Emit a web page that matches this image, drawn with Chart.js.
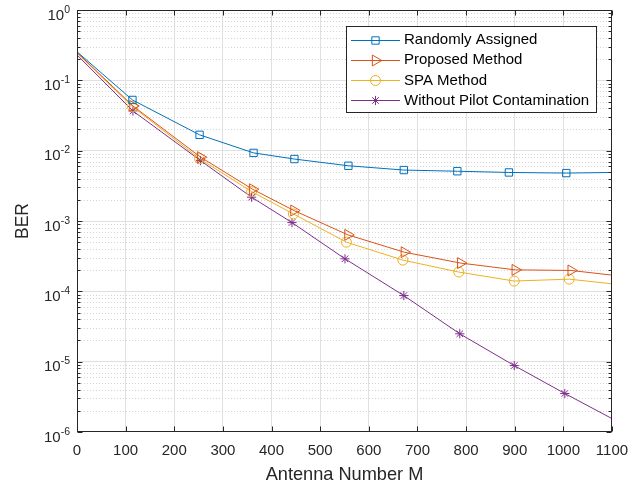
<!DOCTYPE html>
<html><head><meta charset="utf-8">
<script src="https://cdn.jsdelivr.net/npm/chart.js@4/dist/chart.umd.min.js"></script>
<style>html,body{margin:0;padding:0;background:#fff;}canvas{display:block;}</style>
</head><body>
<canvas id="c" width="640" height="486"></canvas>
<script>
// ---- data ----
const seriesLabels = ['Randomly Assigned', 'Proposed Method', 'SPA Method', 'Without Pilot Contamination'];
const xRandom   = [0, 114, 252, 363, 447, 558, 672, 782, 888, 1006, 1100];
const berRandom = [0.255, 0.0526, 0.0168, 0.0093, 0.0076, 0.0061, 0.0053, 0.0051, 0.0049, 0.0048, 0.0049];
const xProposed   = [0, 115, 254, 361, 446, 557, 673, 789, 901, 1016, 1100];
const berProposed = [0.25, 0.0432, 0.0081, 0.00283, 0.00141, 0.000635, 0.00036, 0.000252, 0.000202, 0.000198, 0.00017];
const xSPA   = [0, 114, 252, 359, 445, 554, 670, 785, 899, 1012, 1100];
const berSPA = [0.245, 0.0423, 0.0077, 0.00262, 0.00126, 0.0005, 0.000278, 0.000188, 0.00014, 0.000149, 0.000128];
const xNoPC   = [0, 115, 254, 359, 442, 551, 672, 787, 899, 1003, 1100];
const berNoPC = [0.23, 0.0367, 0.00722, 0.00218, 0.00095, 0.00029, 0.000087, 0.0000249, 0.0000088, 0.00000353, 0.00000155];
const xTickValues = [0, 100, 200, 300, 400, 500, 600, 700, 800, 900, 1000, 1100];
const yDecades = [-6, -5, -4, -3, -2, -1, 0];
const yMinorMantissas = [2, 3, 4, 5, 6, 7, 8, 9];

// ---- styles ----
const colors = ['#0072BD', '#D95319', '#EDB120', '#7E2F8E'];
const styles = [
  {pointStyle: 'rect', radius: 5.2, rotation: 0},
  {pointStyle: 'triangle', radius: 6.3, rotation: 90},
  {pointStyle: 'circle', radius: 5, rotation: 0},
  {pointStyle: 'star', radius: 4.6, rotation: 0}
];
const FONT = '"Liberation Sans", Arial, Helvetica, sans-serif';
const AXIS_COLOR = '#262626';

const isMajor = v => Math.abs(Math.log10(v) - Math.round(Math.log10(v))) < 1e-9;

const yMajorValues = yDecades.map(e => Math.pow(10, e));
const yMinorValues = [];
yDecades.slice(0, -1).forEach(e => yMinorMantissas.forEach(m => yMinorValues.push(m * Math.pow(10, e))));
const yAllValues = [...yMajorValues, ...yMinorValues].sort((a, b) => a - b);

const xs = [xRandom, xProposed, xSPA, xNoPC];
const ys = [berRandom, berProposed, berSPA, berNoPC];

const datasets = seriesLabels.map((label, k) => ({
  label,
  data: xs[k].map((x, i) => ({x, y: ys[k][i]})),
  borderColor: colors[k],
  backgroundColor: 'rgba(0,0,0,0)',
  borderWidth: 1,
  pointStyle: styles[k].pointStyle,
  pointRotation: styles[k].rotation,
  pointRadius: xs[k].map((_, i) => (i === 0 || i === xs[k].length - 1) ? 0 : styles[k].radius),
  pointBorderWidth: 1,
  pointBorderColor: colors[k],
  pointBackgroundColor: 'rgba(0,0,0,0)',
  tension: 0
}));

const matlabAxes = {
  id: 'matlabAxes',
  beforeDatasetsDraw(chart) {
    const {ctx, chartArea: a, scales: {y}} = chart;
    ctx.save();
    ctx.strokeStyle = '#d4d4d4';
    ctx.lineWidth = 1;
    ctx.setLineDash([1, 2]);
    yMinorValues.forEach(v => {
      const py = Math.round(y.getPixelForValue(v)) + 0.5;
      ctx.beginPath(); ctx.moveTo(a.left + 1, py); ctx.lineTo(a.right - 1, py); ctx.stroke();
    });
    ctx.restore();
  },
  afterDatasetsDraw(chart) {
    const {ctx, chartArea: a, scales: {x, y}} = chart;
    ctx.save();
    ctx.strokeStyle = AXIS_COLOR;
    ctx.lineWidth = 1;
    const L = Math.round(a.left) + 0.5, R = Math.round(a.right) - 0.5;
    const T = Math.round(a.top) + 0.5, B = Math.round(a.bottom) - 0.5;
    ctx.beginPath();
    xTickValues.forEach(v => {
      const px = Math.round(x.getPixelForValue(v)) + 0.5;
      ctx.moveTo(px, B); ctx.lineTo(px, B - 5);
      ctx.moveTo(px, T); ctx.lineTo(px, T + 5);
    });
    yMajorValues.forEach(v => {
      const py = Math.round(y.getPixelForValue(v)) + 0.5;
      ctx.moveTo(L, py); ctx.lineTo(L + 5, py);
      ctx.moveTo(R, py); ctx.lineTo(R - 5, py);
    });
    yMinorValues.forEach(v => {
      const py = Math.round(y.getPixelForValue(v)) + 0.5;
      ctx.moveTo(L, py); ctx.lineTo(L + 3, py);
      ctx.moveTo(R, py); ctx.lineTo(R - 3, py);
    });
    ctx.stroke();
    ctx.strokeRect(L, T, R - L, B - T);

    // y tick labels: 10 with superscript exponent, positioned through the y scale
    ctx.fillStyle = AXIS_COLOR;
    ctx.textBaseline = 'alphabetic';
    ctx.textAlign = 'left';
    yDecades.forEach(e => {
      const py = y.getPixelForValue(Math.pow(10, e));
      const expStr = String(e);
      ctx.font = '10.5px ' + FONT;
      const we = ctx.measureText(expStr).width;
      ctx.font = '15px ' + FONT;
      const wb = ctx.measureText('10').width;
      const rightEdge = a.left - 7;
      const xb = rightEdge - we - wb;
      ctx.fillText('10', xb, py + 9.8);
      ctx.font = '10.5px ' + FONT;
      ctx.fillText(expStr, xb + wb, py + 2.8);
    });
    ctx.restore();
  },
  afterDraw(chart) {
    const {ctx, chartArea: a} = chart;
    ctx.save();
    ctx.font = '15px ' + FONT;
    const ds = chart.data.datasets;
    const tw = Math.max(...ds.map(d => ctx.measureText(d.label).width));
    const w = Math.round(58 + tw + 7);
    const rowH = 20.3;
    const h = 86;
    const right = Math.round(a.right - 16), top = Math.round(a.top + 16);
    const left = right - w;
    ctx.fillStyle = '#fff';
    ctx.fillRect(left, top, w, h);
    ctx.strokeStyle = AXIS_COLOR;
    ctx.lineWidth = 1;
    ctx.strokeRect(left + 0.5, top + 0.5, w, h);
    ds.forEach((d, i) => {
      const cy = top + 13.5 + i * rowH;
      const ly = Math.round(cy) + 0.5;
      ctx.strokeStyle = d.borderColor;
      ctx.lineWidth = 1;
      ctx.setLineDash([]);
      ctx.beginPath(); ctx.moveTo(left + 5, ly); ctx.lineTo(left + 54, ly); ctx.stroke();
      ctx.fillStyle = 'rgba(0,0,0,0)';
      if (Chart.helpers && Chart.helpers.drawPoint) {
        Chart.helpers.drawPoint(ctx, {pointStyle: styles[i].pointStyle, rotation: styles[i].rotation, radius: styles[i].radius, borderWidth: 1}, left + 29.5, ly);
      }
      ctx.fillStyle = '#000';
      ctx.textAlign = 'left';
      ctx.textBaseline = 'middle';
      ctx.fillText(d.label, left + 58, cy + 0.5);
    });
    ctx.restore();
  }
};

new Chart(document.getElementById('c'), {
  type: 'line',
  data: {datasets},
  options: {
    responsive: false,
    animation: false,
    events: [],
    layout: {padding: {left: 0, right: 28, top: 10, bottom: 0}},
    plugins: {legend: {display: false}, tooltip: {enabled: false}},
    scales: {
      x: {
        type: 'linear', min: 0, max: 1100,
        afterBuildTicks: s => { s.ticks = xTickValues.map(v => ({value: v})); },
        afterFit: s => { s.height = 54; },
        ticks: {font: {family: FONT, size: 15}, color: AXIS_COLOR, padding: 10, maxRotation: 0, autoSkip: false,
          callback: v => String(v)},
        grid: {
          drawTicks: false,
          color: c => (c.tick && c.tick.value > 0 && c.tick.value < 1100) ? '#e0e0e0' : 'rgba(0,0,0,0)',
          lineWidth: 1
        },
        border: {display: false},
        title: {display: true, text: 'Antenna Number M', font: {family: FONT, size: 18.2}, color: AXIS_COLOR, padding: {top: 0, bottom: 0}}
      },
      y: {
        type: 'logarithmic', min: 1e-6, max: 1,
        afterBuildTicks: s => { s.ticks = yAllValues.map(v => ({value: v, major: isMajor(v)})); },
        afterFit: s => { s.width = 77; },
        ticks: {display: false, autoSkip: false},
        grid: {
          drawTicks: false,
          color: c => (c.tick && isMajor(c.tick.value) && c.tick.value > 1.5e-6 && c.tick.value < 0.9) ? '#e0e0e0' : 'rgba(0,0,0,0)',
          lineWidth: 1
        },
        border: {display: false},
        title: {display: true, text: 'BER', font: {family: FONT, size: 17.5}, color: AXIS_COLOR, padding: {top: 12.5, bottom: 0}}
      }
    }
  },
  plugins: [matlabAxes]
});
</script>
</body></html>
